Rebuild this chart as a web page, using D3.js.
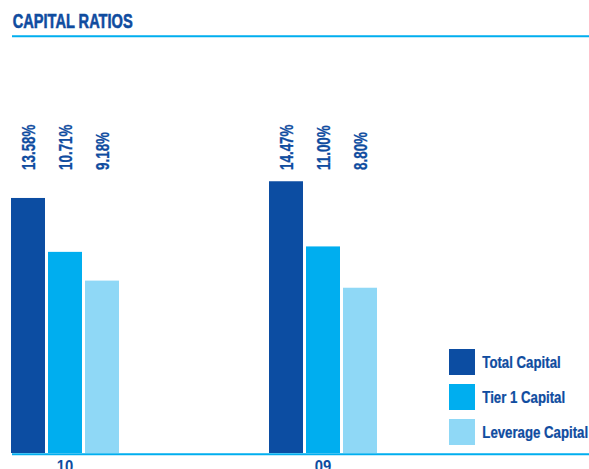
<!DOCTYPE html>
<html>
<head>
<meta charset="utf-8">
<script src="https://cdn.jsdelivr.net/npm/d3@7"></script>
<style>
  html, body { margin: 0; padding: 0; background: #fff; }
  svg { display: block; }
  text { font-family: "Liberation Sans", Arial, sans-serif; font-weight: bold; fill: #0f4c9f; }
</style>
</head>
<body>
<svg id="chart" width="589" height="469"></svg>
<script>
// Capital ratio figures by year
const years = ["10", "09"];
const seriesNames = ["Total Capital", "Tier 1 Capital", "Leverage Capital"];
const totalCapital = [13.58, 14.47];
const tier1Capital = [10.71, 11.00];
const leverageCapital = [9.18, 8.80];
const colors = ["#0c4da2", "#00aeef", "#8fd8f6"];

const seriesValues = [totalCapital, tier1Capital, leverageCapital];
const rows = years.map((y, i) => ({
  year: y,
  values: seriesNames.map((s, k) => ({ series: s, value: seriesValues[k][i] }))
}));

const svg = d3.select("#chart");
const W = 589;

// Horizontal squeeze factor so a sample string in the given size spans the wanted width
function squeeze(sample, size, width) {
  const t = svg.append("text").attr("font-size", size).text(sample);
  const len = t.node().getComputedTextLength();
  t.remove();
  return width / len;
}

// Title and rule
const titleSx = squeeze("CAPITAL RATIOS", 20, 120);
svg.append("text")
  .attr("font-size", 20)
  .attr("stroke", "#0f4c9f").attr("stroke-width", 0.6)
  .attr("transform", `translate(12.7,28.4) scale(${titleSx},1)`)
  .text("CAPITAL RATIOS");
svg.append("line")
  .attr("x1", 12).attr("x2", W).attr("y1", 36.3).attr("y2", 36.3)
  .attr("stroke", "#00aeef").attr("stroke-width", 2);

// Scales
const x0 = d3.scaleBand().domain(years).range([11, 377]).paddingInner(150 / 258).paddingOuter(0);
const x1 = d3.scaleBand().domain(seriesNames).range([0, x0.bandwidth()]).paddingInner(3 / 37).paddingOuter(0);
const y = d3.scaleLinear().domain([0, 16]).range([453, 453 - 16 * 18.78]);
const color = d3.scaleOrdinal().domain(seriesNames).range(colors);

const groups = svg.selectAll("g.year").data(rows).join("g")
  .attr("class", "year")
  .attr("transform", d => `translate(${x0(d.year)},0)`);

groups.selectAll("rect").data(d => d.values).join("rect")
  .attr("x", d => x1(d.series))
  .attr("width", x1.bandwidth())
  .attr("y", d => y(d.value))
  .attr("height", d => y(0) - y(d.value))
  .attr("fill", d => color(d.series));

// Rotated value labels, all starting from a common line above the bars
const valSx = squeeze("13.58%", 18.5, 45.5);
groups.selectAll("text.val").data(d => d.values).join("text")
  .attr("class", "val")
  .attr("font-size", 18.5)
  .attr("stroke", "#0f4c9f").attr("stroke-width", 0.3)
  .attr("text-anchor", "start")
  .attr("transform", d => `translate(${x1(d.series) + x1.bandwidth() / 2 + 0.5},170) rotate(-90) scale(${valSx},1)`)
  .attr("dy", "0.36em")
  .text(d => d.value.toFixed(2) + "%");

// Baseline axis
svg.append("line")
  .attr("x1", 12).attr("x2", W).attr("y1", y(0) + 1.3).attr("y2", y(0) + 1.3)
  .attr("stroke", "#00aeef").attr("stroke-width", 2);

const axSx = squeeze("10", 17, 16.5);
const xAxis = d3.axisBottom(x0).tickSize(0).tickPadding(0);
const axisG = svg.append("g").attr("transform", `translate(0,${y(0) + 2})`).call(xAxis);
axisG.select(".domain").remove();
axisG.selectAll(".tick").attr("transform", d => `translate(${x0(d) + x0.bandwidth() / 2},0) scale(${axSx},1)`);
axisG.selectAll("text")
  .attr("font-size", 17)
  .attr("font-family", null)
  .attr("dy", "1.0em")
  .style("fill", "#0f4c9f");

// Legend
const legSx = squeeze("Total Capital", 15.6, 78.4);
const legend = svg.append("g").attr("transform", "translate(449,349)");
const items = legend.selectAll("g").data(seriesNames).join("g")
  .attr("transform", (d, i) => `translate(0,${i * 35})`);
items.append("rect").attr("width", 26).attr("height", 26).attr("fill", d => color(d));
items.append("text")
  .attr("font-size", 15.6)
  .attr("stroke", "#0f4c9f").attr("stroke-width", 0.25)
  .attr("transform", `translate(33.3,18.7) scale(${legSx},1)`)
  .text(d => d);
</script>
</body>
</html>
